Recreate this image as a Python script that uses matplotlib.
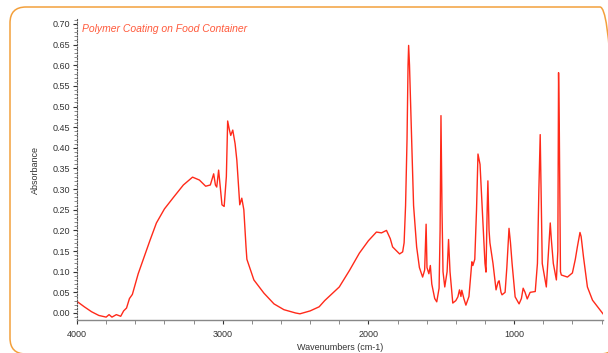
import numpy as np
import matplotlib
matplotlib.use('Agg')
from matplotlib import pyplot as plt
from matplotlib.patches import FancyBboxPatch
from matplotlib.ticker import MultipleLocator

# spectrum (wavenumber, absorbance)
wavenumbers = [4000, 3950, 3900, 3850, 3800, 3780, 3760, 3730, 3700, 3680, 3660, 3640, 3620, 3600,
               3580, 3560, 3500, 3455, 3400, 3338, 3270, 3207, 3160, 3117, 3085, 3062, 3050, 3041,
               3028, 3015, 3005, 2990, 2975, 2966, 2955, 2945, 2931, 2915, 2903, 2890, 2883, 2869,
               2855, 2840, 2834, 2786, 2717, 2648, 2580, 2500, 2470, 2400, 2338, 2300, 2200, 2130,
               2062, 2000, 1945, 1910, 1876, 1850, 1834, 1800, 1786, 1765, 1755, 1745, 1735, 1728,
               1724, 1718, 1710, 1700, 1690, 1669, 1650, 1628, 1614, 1604, 1598, 1585, 1575, 1565,
               1545, 1531, 1515, 1508, 1502, 1495, 1488, 1476, 1460, 1450, 1440, 1421, 1400, 1386,
               1375, 1365, 1359, 1345, 1331, 1310, 1290, 1283, 1270, 1258, 1248, 1240, 1234, 1214,
               1200, 1193, 1185, 1180, 1172, 1166, 1145, 1124, 1110, 1103, 1090, 1083, 1062, 1050,
               1035, 1025, 1014, 993, 966, 950, 938, 925, 910, 890, 855, 840, 830, 821, 815, 807,
               779, 766, 752, 745, 731, 710, 700, 695, 690, 682, 676, 634, 600, 580, 566, 548, 540,
               524, 497, 462, 421, 390]
absorbance = [0.028, 0.015, 0.003, -0.006, -0.010, -0.004, -0.010, -0.004, -0.008, 0.005, 0.012, 0.035,
              0.045, 0.070, 0.095, 0.115, 0.175, 0.218, 0.252, 0.280, 0.310, 0.329, 0.322, 0.307,
              0.310, 0.337, 0.310, 0.305, 0.346, 0.300, 0.262, 0.258, 0.330, 0.465, 0.445, 0.430,
              0.443, 0.410, 0.370, 0.300, 0.262, 0.278, 0.250, 0.160, 0.130, 0.080, 0.048, 0.022,
              0.008, 0.000, -0.002, 0.005, 0.015, 0.030, 0.063, 0.103, 0.145, 0.175, 0.196, 0.194,
              0.200, 0.180, 0.160, 0.148, 0.143, 0.148, 0.170, 0.260, 0.420, 0.600, 0.648, 0.600,
              0.500, 0.380, 0.260, 0.160, 0.110, 0.087, 0.104, 0.215, 0.110, 0.095, 0.115, 0.070,
              0.035, 0.027, 0.060, 0.200, 0.478, 0.250, 0.100, 0.063, 0.100, 0.178, 0.100, 0.024,
              0.030, 0.039, 0.056, 0.040, 0.055, 0.035, 0.019, 0.040, 0.124, 0.115, 0.130, 0.250,
              0.385, 0.370, 0.360, 0.218, 0.120, 0.099, 0.250, 0.320, 0.200, 0.170, 0.120, 0.056,
              0.075, 0.078, 0.050, 0.044, 0.050, 0.110, 0.205, 0.170, 0.120, 0.039, 0.022, 0.035,
              0.060, 0.050, 0.034, 0.050, 0.052, 0.120, 0.300, 0.432, 0.300, 0.120, 0.063, 0.136,
              0.218, 0.180, 0.120, 0.080, 0.150, 0.582, 0.450, 0.100, 0.092, 0.087, 0.097, 0.130,
              0.160, 0.195, 0.185, 0.136, 0.063, 0.031, 0.012, -0.002]

title = 'Polymer Coating on Food Container'
x_label = 'Wavenumbers (cm-1)'
y_label = 'Absorbance'

plt.rcParams['font.family'] = ['Liberation Sans', 'DejaVu Sans']
fig = plt.figure(figsize=(6.08, 3.53), dpi=100)

# rounded orange frame, drawn in pixels; bottom and right run off the picture
frame = FancyBboxPatch((10, -1), 606, 347,
                       boxstyle='round,pad=0,rounding_size=16',
                       transform=None, fill=False,
                       edgecolor='#f3a03c', linewidth=1.1)
fig.patches.append(frame)

ax = fig.add_axes([77 / 608, 33 / 353, 526 / 608, 301 / 353])
ax.plot(wavenumbers, absorbance, color='#ff2a1a', linewidth=1.0)

ax.set_xlim(4000, 390)
ax.set_ylim(-0.017, 0.712)
ax.xaxis.set_major_locator(MultipleLocator(1000))
ax.xaxis.set_minor_locator(MultipleLocator(200))
ax.yaxis.set_major_locator(MultipleLocator(0.05))
ax.yaxis.set_minor_locator(MultipleLocator(0.01))
ax.yaxis.set_major_formatter(plt.FormatStrFormatter('%.2f'))

for s in ['top', 'right']:
    ax.spines[s].set_visible(False)
ax.spines['left'].set_linestyle((0, (1, 1.5)))
ax.spines['left'].set_color('#555555')
ax.spines['bottom'].set_color('#888888')
ax.spines['bottom'].set_linewidth(1.0)

ax.tick_params(axis='both', which='major', labelsize=6.5, colors='#333333', length=3, width=0.8, pad=2)
ax.tick_params(axis='both', which='minor', length=2, width=0.6, colors='#777777')
ax.tick_params(axis='x', which='minor', length=3)
ax.tick_params(axis='x', which='major', pad=4)

ax.text(0.01, 0.985, title, transform=ax.transAxes, color='#ff5a3c', fontstyle='italic',
        fontsize=7.5, ha='left', va='top')
ax.set_xlabel(x_label, fontsize=6.5, color='#333333', labelpad=3)
ax.set_ylabel(y_label, fontsize=6.5, color='#333333', labelpad=9)

plt.savefig('out.png', dpi=100)
